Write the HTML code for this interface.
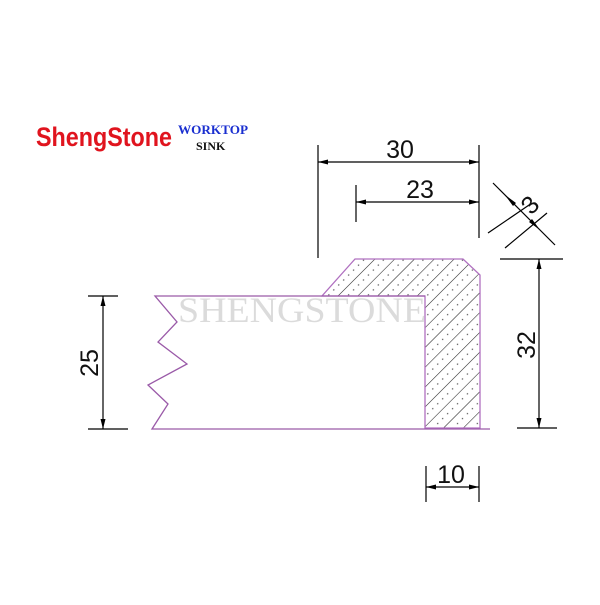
<!DOCTYPE html>
<html><head><style>
body{margin:0;background:#fff;width:600px;height:600px;overflow:hidden}
</style></head><body>
<svg width="600" height="600" viewBox="0 0 600 600" xmlns="http://www.w3.org/2000/svg">
<defs>
<pattern id="h" width="14" height="14" patternUnits="userSpaceOnUse" patternTransform="rotate(45)">
<rect width="14" height="14" fill="#fff"/>
<line x1="0" y1="0" x2="0" y2="14" stroke="#222" stroke-width="1.1"/>
<circle cx="7" cy="4" r="0.7" fill="#555"/><circle cx="7" cy="11" r="0.7" fill="#555"/>
</pattern>
<marker id="a" markerWidth="10" markerHeight="6" refX="10" refY="3" orient="auto-start-reverse" markerUnits="userSpaceOnUse"><path d="M0,0.5 L10,3 L0,5.5z" fill="#000"/></marker>
</defs>
<text x="36" y="146" font-family="Liberation Sans, sans-serif" font-weight="bold" font-size="27" fill="#e0141e" textLength="136" lengthAdjust="spacingAndGlyphs">ShengStone</text>
<text x="178" y="134" font-family="Liberation Serif, serif" font-weight="bold" font-size="13" fill="#1a2fd0" textLength="70" lengthAdjust="spacingAndGlyphs">WORKTOP</text>
<text x="196" y="150" font-family="Liberation Serif, serif" font-weight="bold" font-size="12" fill="#111">SINK</text>
<path d="M355,259 L463,259 L480,275 L480,428 L425,428 L425,296 L322,296 Z" fill="url(#h)" stroke="#b070c0" stroke-width="1.3"/>
<text x="178" y="322" font-family="Liberation Serif, serif" font-size="36" fill="#ccc" opacity="0.7" textLength="248" lengthAdjust="spacingAndGlyphs">SHENGSTONE</text>
<path d="M425,296 L155,296 L177,322 L158,342 L187,364 L148,385 L168,404 L152,429 L490,429" fill="none" stroke="#9a5aa8" stroke-width="1.3"/>
<g stroke="#000" stroke-width="1.2" fill="none">
<line x1="318" y1="145" x2="318" y2="258"/><line x1="479" y1="145" x2="479" y2="238"/>
<line x1="318" y1="162" x2="479" y2="162" marker-start="url(#a)" marker-end="url(#a)"/>
<line x1="356" y1="185" x2="356" y2="222"/>
<line x1="356" y1="202" x2="479" y2="202" marker-start="url(#a)" marker-end="url(#a)"/>
<line x1="500" y1="259" x2="563" y2="259"/><line x1="517" y1="428" x2="557" y2="428"/>
<line x1="539" y1="259" x2="539" y2="428" marker-start="url(#a)" marker-end="url(#a)"/>
<line x1="88" y1="296" x2="118" y2="296"/><line x1="88" y1="429" x2="128" y2="429"/>
<line x1="103" y1="296" x2="103" y2="429" marker-start="url(#a)" marker-end="url(#a)"/>
<line x1="426" y1="466" x2="426" y2="502"/><line x1="479" y1="466" x2="479" y2="502"/>
<line x1="426" y1="487" x2="479" y2="487" marker-start="url(#a)" marker-end="url(#a)"/>
<line x1="493" y1="183" x2="555" y2="245"/>
<line x1="488" y1="233" x2="532" y2="203"/><line x1="505" y1="248" x2="547" y2="213"/>
</g>
<path d="M505,195 l8,11 l3,-3z M540,230 l-8,-11 l-3,3z" fill="#000"/>
<g font-family="Liberation Sans, sans-serif" font-size="25" fill="#111">
<text x="400" y="158" text-anchor="middle">30</text>
<text x="420" y="198" text-anchor="middle">23</text>
<text x="451" y="483" text-anchor="middle">10</text>
<text transform="translate(535,345) rotate(-90)" text-anchor="middle">32</text>
<text transform="translate(98,363) rotate(-90)" text-anchor="middle">25</text>
<text transform="translate(536,211) rotate(-45)" text-anchor="middle">3</text>
</g>
</svg>
</body></html>
